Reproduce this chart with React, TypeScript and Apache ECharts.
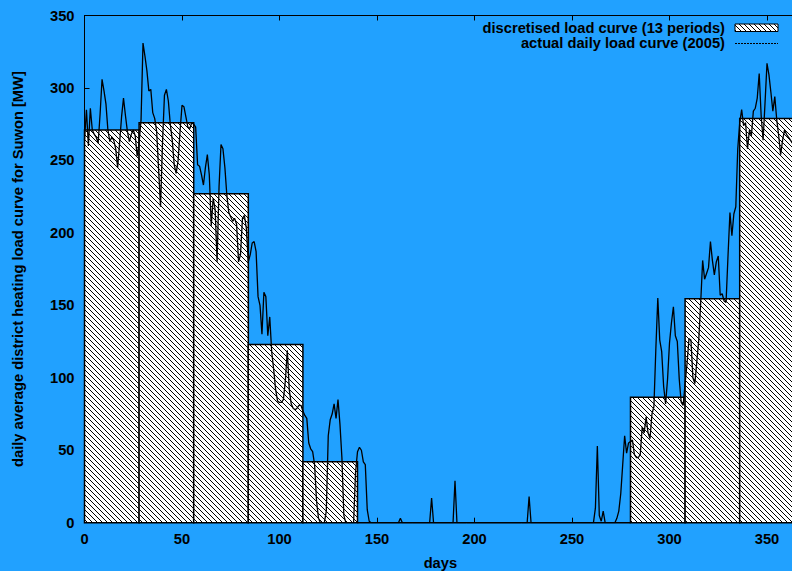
import React, { useEffect, useRef } from 'react';
import * as echarts from 'echarts';

// 13 discretised periods (days) and their average load [MW]
const periodStart = [0, 28, 56, 84, 112, 140, 168, 196, 224, 252, 280, 308, 336];
const periodEnd = [28, 56, 84, 112, 140, 168, 196, 224, 252, 280, 308, 336, 365];
const periodLoad = [271, 276, 227, 123, 42, 0, 0, 0, 0, 0, 86.5, 154.5, 279];

// actual daily load curve 2005, days 0..146
const winterSpringLoad = [
  264, 285, 260, 286, 271, 268, 266, 262, 282, 306,
  298, 289, 271, 263, 266, 264, 258, 245, 262, 280,
  293, 281, 270, 263, 268, 271, 267, 253, 262, 278,
  331, 322, 312, 298, 299, 283, 279, 270, 244, 218,
  262, 295, 299, 291, 275, 264, 247, 241, 250, 270,
  288, 287, 280, 273, 272, 276, 275, 273, 247, 246,
  240, 233, 245, 254, 240, 205, 224, 216, 180, 232,
  261, 258, 245, 226, 214, 211, 208, 210, 206, 180,
  185, 210, 212, 203, 180, 185, 193, 194, 187, 156,
  150, 130, 159, 156, 129, 142, 118, 106, 92, 84,
  83, 83, 85, 98, 119, 92, 82, 79, 78, 79,
  81, 81, 77, 74, 72, 55, 51, 49, 40, 15,
  3, 0, 0, 0, 8, 60, 71, 75, 82, 72,
  85, 68, 45, 5, 0, 0, 0, 0, 0, 35,
  49, 52, 50, 42, 40, 9, 1,
];
// days 147..260
const summerLoad = [
  0, 0, 0, 0, 0, 0, 0, 0, 0, 0,
  0, 0, 0, 0, 0, 3, 0, 0, 0, 0,
  0, 0, 0, 0, 0, 0, 0, 0, 0, 0,
  0, 17, 0, 0, 0, 0, 0, 0, 0, 0,
  0, 0, 0, 29, 0, 0, 0, 0, 0, 0,
  0, 0, 0, 0, 0, 0, 0, 0, 0, 0,
  0, 0, 0, 0, 0, 0, 0, 0, 0, 0,
  0, 0, 0, 0, 0, 0, 0, 0, 0, 0,
  0, 18, 0, 0, 0, 0, 0, 0, 0, 0,
  0, 0, 0, 0, 0, 0, 0, 0, 0, 0,
  0, 0, 0, 0, 0, 0, 0, 0, 0, 0,
  0, 0, 0, 0,
];
// days 261..365
const autumnWinterLoad = [
  0, 10, 53, 5, 1, 8, 0, 0, 0, 0,
  0, 0, 3, 8, 20, 40, 60, 48, 55, 56,
  57, 47, 45, 45, 47, 66, 62, 73, 62, 58,
  75, 80, 120, 155, 126, 118, 94, 82, 99, 124,
  138, 149, 129, 125, 99, 83, 81, 96, 110, 127,
  126, 100, 96, 111, 126, 152, 181, 168, 172, 176,
  194, 181, 171, 180, 184, 157, 158, 153, 152, 184,
  214, 198, 213, 218, 258, 276, 285, 274, 276, 258,
  271, 267, 284, 286, 293, 310, 281, 264, 290, 317,
  309, 297, 284, 294, 278, 267, 254, 264, 271, 268,
  266, 264, 262, 266, 260,
];

const FONT = '"Liberation Sans", Arial, Helvetica, sans-serif';
const BG = '#21a1ff';
const FS = 14.7;

function hatchLines(x0: number, y0: number, x1: number, y1: number, sp: number) {
  const segs: any[] = [];
  const cStart = Math.ceil((y0 - x1) / sp) * sp;
  for (let c = cStart; c <= y1 - x0; c += sp) {
    const xa = Math.max(x0, y0 - c);
    const xb = Math.min(x1, y1 - c);
    if (xb > xa) {
      segs.push({
        type: 'line',
        silent: true,
        shape: { x1: xa, y1: xa + c, x2: xb, y2: xb + c },
        style: { stroke: '#000', lineWidth: 1 },
      });
    }
  }
  return segs;
}

export default function App() {
  const ref = useRef<HTMLDivElement>(null);
  useEffect(() => {
    if (!ref.current) return;
    const chart = echarts.init(ref.current, undefined, { renderer: 'svg' });
    const daily = [...winterSpringLoad, ...summerLoad, ...autumnWinterLoad];
    const lineData = daily.map((v, i) => [i, v]);
    const barData = periodStart.map((s, i) => [s, periodEnd[i], periodLoad[i]]);
    const labelStyle = { fontFamily: FONT, fontWeight: 'bold' as const, fontSize: FS, color: '#000' };

    const lx0 = 735, lx1 = 778;
    chart.setOption({
      animation: false,
      backgroundColor: BG,
      grid: { left: 84.5, top: 15.5, width: 711.75, height: 507.2, outerBoundsMode: 'none', containLabel: false },
      xAxis: [
        {
          type: 'value', min: 0, max: 365, interval: 50, position: 'bottom',
          axisLine: { show: true, onZero: false, lineStyle: { color: '#000', width: 1 } },
          axisTick: { show: true, inside: true, length: 5, lineStyle: { color: '#000' } },
          axisLabel: { ...labelStyle, margin: 9, showMaxLabel: false },
          splitLine: { show: false },
          name: 'days', nameLocation: 'middle', nameGap: 33,
          nameTextStyle: labelStyle,
        },
        {
          type: 'value', min: 0, max: 365, interval: 50, position: 'top',
          axisLine: { show: true, onZero: false, lineStyle: { color: '#000', width: 1 } },
          axisTick: { show: true, inside: true, length: 5, lineStyle: { color: '#000' } },
          axisLabel: { show: false },
          splitLine: { show: false },
        },
      ],
      yAxis: [
        {
          type: 'value', min: 0, max: 350, interval: 50,
          axisLine: { show: true, onZero: false, lineStyle: { color: '#000', width: 1 } },
          axisTick: { show: true, inside: true, length: 5, lineStyle: { color: '#000' } },
          axisLabel: { ...labelStyle, margin: 10 },
          splitLine: { show: false },
          name: 'daily average district heating load curve for Suwon [MW]',
          nameLocation: 'middle', nameGap: 59,
          nameTextStyle: labelStyle,
        },
      ],
      series: [
        {
          type: 'custom',
          name: 'discretised load curve (13 periods)',
          data: barData,
          encode: { x: [0, 1], y: 2 },
          renderItem: (params: any, api: any) => {
            const s = api.value(0), e = api.value(1), v = api.value(2);
            const p0 = api.coord([s, v]);
            const p1 = api.coord([e, 0]);
            const x0 = p0[0], y0 = p0[1], x1 = p1[0], y1 = p1[1];
            const children: any[] = [
              { type: 'rect', shape: { x: x0, y: y0, width: x1 - x0, height: y1 - y0 }, style: { fill: '#fff' } },
              ...hatchLines(x0, y0, x1, y1, 5),
              { type: 'rect', shape: { x: x0, y: y0, width: x1 - x0, height: y1 - y0 }, style: { fill: 'none', stroke: '#000', lineWidth: 1.5 } },
            ];
            return { type: 'group', children };
          },
          z: 2,
        },
        {
          type: 'line',
          name: 'actual daily load curve (2005)',
          data: lineData,
          symbol: 'none',
          lineStyle: { color: '#000', width: 1.3 },
          z: 3,
        },
      ],
      graphic: [
        {
          type: 'text', x: 725, y: 28,
          style: { text: 'discretised load curve (13 periods)', font: `bold ${FS}px ${FONT}`, fill: '#000', align: 'right', verticalAlign: 'middle' },
        },
        {
          type: 'group',
          children: [
            { type: 'rect', shape: { x: lx0, y: 24, width: lx1 - lx0, height: 7.5 }, style: { fill: '#fff' } },
            ...hatchLines(lx0, 24, lx1, 31.5, 5),
            { type: 'rect', shape: { x: lx0, y: 24, width: lx1 - lx0, height: 7.5 }, style: { fill: 'none', stroke: '#000', lineWidth: 1 } },
          ],
        },
        {
          type: 'text', x: 725, y: 43.3,
          style: { text: 'actual daily load curve (2005)', font: `bold ${FS}px ${FONT}`, fill: '#000', align: 'right', verticalAlign: 'middle' },
        },
        {
          type: 'line', shape: { x1: lx0, y1: 43.5, x2: lx1, y2: 43.5 },
          style: { stroke: '#000', lineWidth: 1, lineDash: [2, 1] },
        },
      ],
    });
    return () => chart.dispose();
  }, []);
  return <div ref={ref} style={{ position: 'fixed', left: 0, top: 0, width: 792, height: 571 }} />;
}
